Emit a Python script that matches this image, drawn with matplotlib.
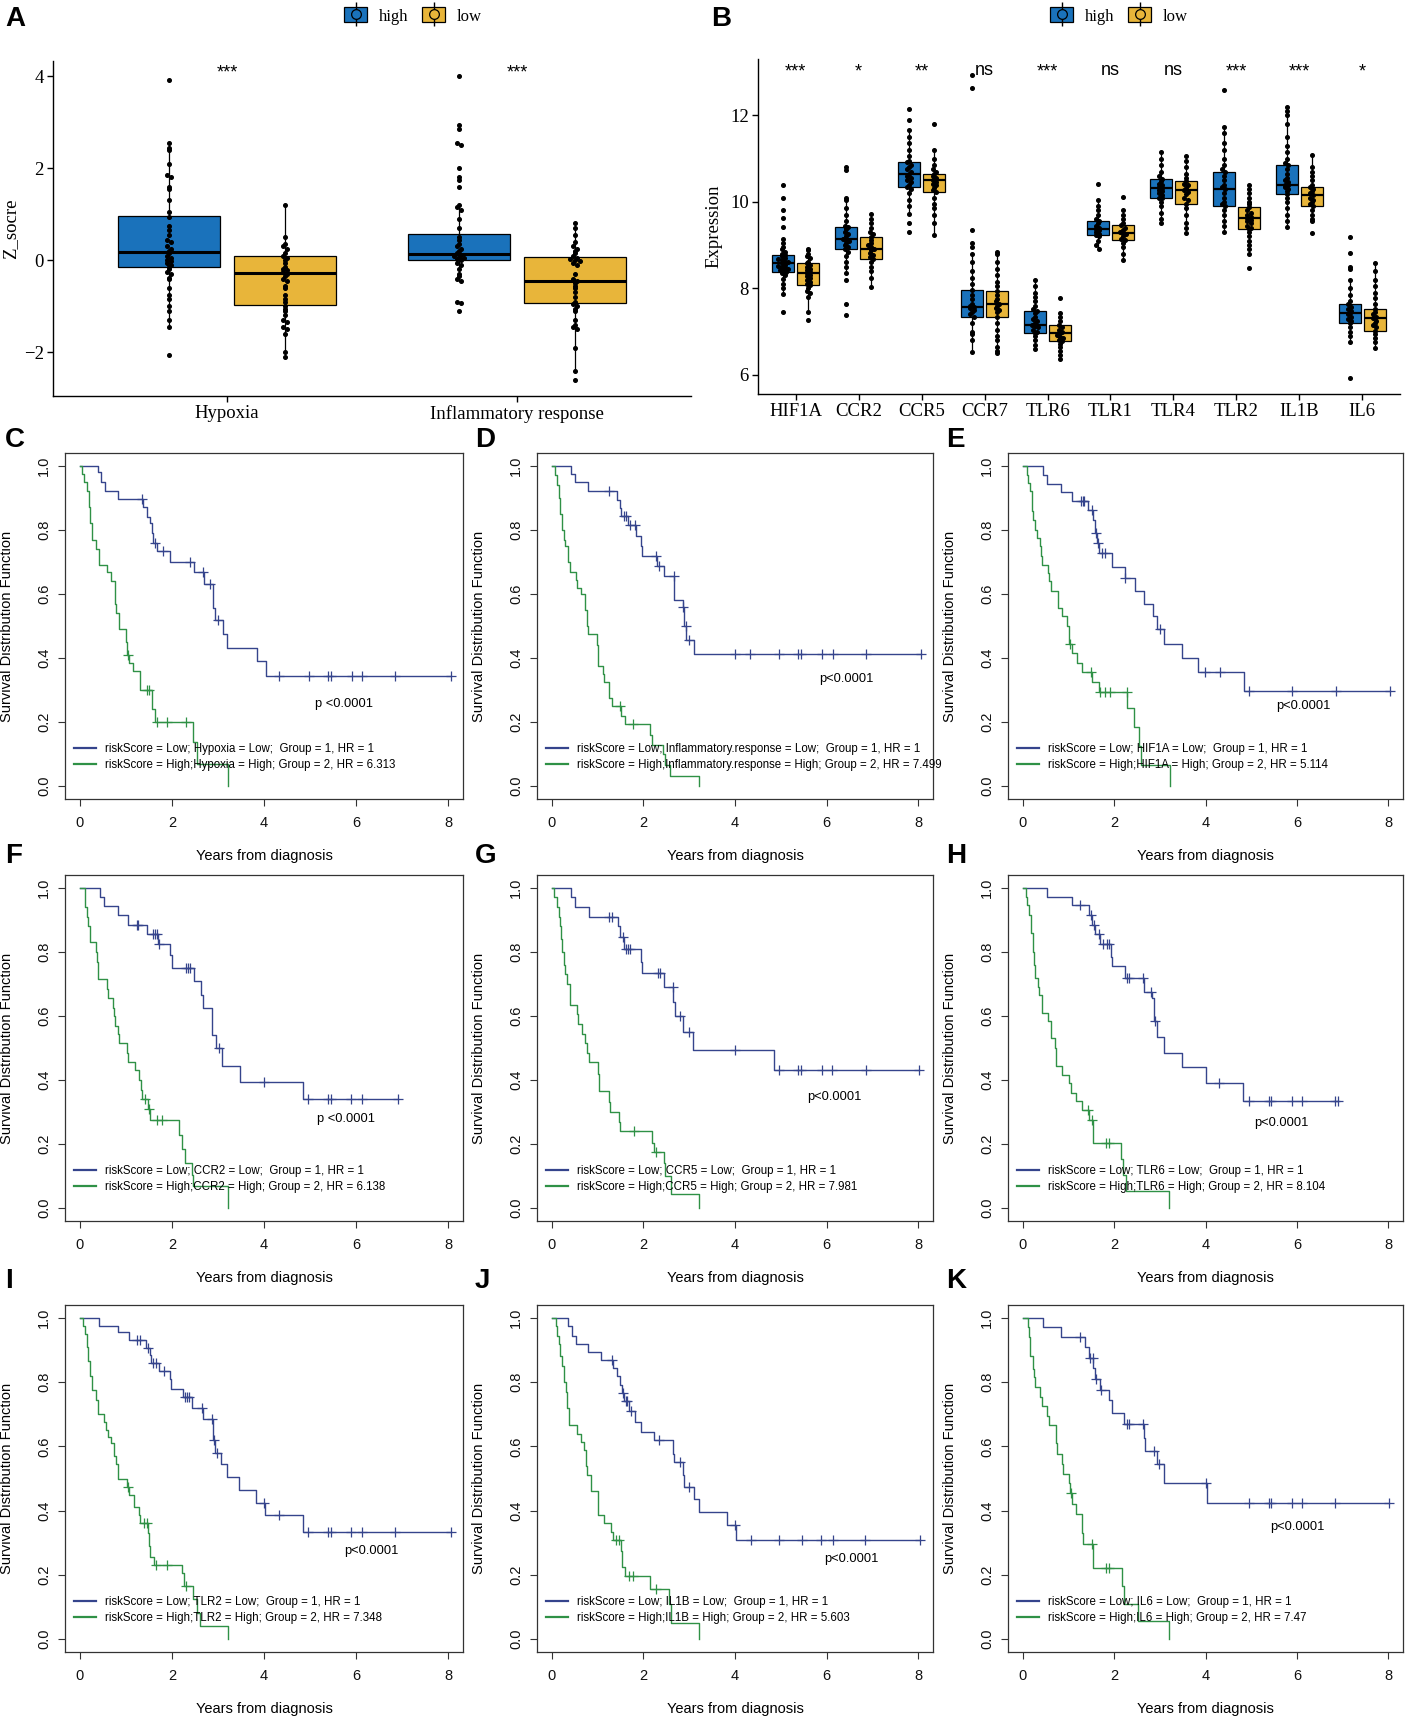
import numpy as np
import matplotlib
matplotlib.use('Agg')
import matplotlib.pyplot as plt
from matplotlib.patches import Patch
from matplotlib.lines import Line2D
from matplotlib.legend_handler import HandlerTuple

W, H = 1406, 1719
SERIF = 'Liberation Serif'
SANS = 'Liberation Sans'
BLUE_BOX = '#1a72bb'
GOLD_BOX = '#e8b53a'
KM_LOW = '#35448c'
KM_HIGH = '#2f9146'

plt.rcParams['font.family'] = [SANS, 'DejaVu Sans']

# ── Panel A: hallmark z-scores ────────────────────────────────────────────────
hallmarks = ['Hypoxia', 'Inflammatory response']
# (whisker low, q1, median, q3, whisker high)
hallmark_high_box = [(-1.45, -0.15, 0.17, 0.97, 2.55), (-0.45, 0.0, 0.14, 0.58, 1.2)]
hallmark_low_box = [(-2.1, -0.97, -0.28, 0.10, 1.2), (-2.4, -0.92, -0.45, 0.07, 0.8)]
hypoxia_high_pts = [3.92, 2.55, 2.45, 2.40, 2.1, 1.85, 1.8, 1.6, 1.55, 1.3, 1.05, 0.95, 0.75, 0.65,
                    0.55, 0.45, 0.4, 0.3, 0.25, 0.2, 0.15, 0.1, 0.05, 0.0, -0.02, -0.05, -0.1, -0.15,
                    -0.2, -0.25, -0.3, -0.38, -0.4, -0.6, -0.75, -0.85, -1.0, -1.1, -1.3, -1.45, -2.05]
hypoxia_low_pts = [1.2, 0.5, 0.35, 0.3, 0.25, 0.15, 0.1, 0.05, 0.0, -0.05, -0.15, -0.2, -0.22, -0.25,
                   -0.3, -0.35, -0.4, -0.45, -0.55, -0.6, -0.75, -0.85, -0.9, -1.0, -1.05, -1.1, -1.2,
                   -1.3, -1.35, -1.45, -1.5, -1.6, -2.0, -2.1]
inflam_high_pts = [4.0, 2.95, 2.85, 2.55, 2.5, 2.0, 1.8, 1.75, 1.6, 1.2, 1.15, 1.1, 0.9, 0.7, 0.5, 0.45,
                   0.35, 0.3, 0.25, 0.2, 0.15, 0.12, 0.1, 0.08, 0.05, 0.02, 0.0, -0.05, -0.1, -0.2, -0.3,
                   -0.35, -0.4, -0.45, -0.9, -0.92, -1.1]
inflam_low_pts = [0.8, 0.7, 0.55, 0.4, 0.3, 0.25, 0.2, 0.15, 0.1, 0.05, 0.02, 0.0, -0.02, -0.05, -0.1,
                  -0.3, -0.4, -0.45, -0.5, -0.55, -0.6, -0.7, -0.8, -0.9, -0.95, -1.0, -1.05, -1.1, -1.3,
                  -1.4, -1.45, -1.5, -1.9, -2.4, -2.6]
hallmark_sig = ['***', '***']

# ── Panel B: gene expression ──────────────────────────────────────────────────
genes = ['HIF1A', 'CCR2', 'CCR5', 'CCR7', 'TLR6', 'TLR1', 'TLR4', 'TLR2', 'IL1B', 'IL6']
gene_sig = ['***', '*', '**', 'ns', '***', 'ns', 'ns', '***', '***', '*']
gene_high_box = [(7.88, 8.38, 8.58, 8.77, 9.15), (8.35, 8.91, 9.15, 9.42, 10.04),
                 (9.73, 10.35, 10.65, 10.91, 11.65), (6.54, 7.35, 7.56, 7.96, 8.8),
                 (6.59, 6.98, 7.15, 7.48, 8.19), (8.92, 9.23, 9.38, 9.56, 10.04),
                 (9.5, 10.08, 10.31, 10.52, 11.15), (9.31, 9.9, 10.29, 10.69, 11.73),
                 (9.42, 10.19, 10.38, 10.85, 12.19), (6.77, 7.21, 7.44, 7.63, 8.19)]
gene_low_box = [(7.46, 8.08, 8.35, 8.59, 8.92), (8.04, 8.69, 8.92, 9.19, 9.73),
                (9.23, 10.22, 10.5, 10.64, 11.19), (6.5, 7.35, 7.65, 7.95, 8.85),
                (6.36, 6.79, 6.96, 7.15, 7.42), (8.65, 9.12, 9.29, 9.46, 9.81),
                (9.27, 9.96, 10.27, 10.48, 11.06), (8.8, 9.37, 9.62, 9.87, 10.38),
                (9.55, 9.9, 10.15, 10.35, 11.08), (6.62, 7.02, 7.31, 7.52, 8.58)]
gene_high_pts = [
    [10.38, 10.08, 9.8, 9.62, 9.42, 9.15, 9.05, 8.95, 8.9, 8.85, 8.8, 8.77, 8.75, 8.7, 8.68, 8.65, 8.62,
     8.6, 8.58, 8.55, 8.52, 8.5, 8.48, 8.45, 8.42, 8.4, 8.38, 8.35, 8.3, 8.22, 8.1, 8.0, 7.88, 7.46],
    [10.8, 10.73, 10.1, 10.04, 9.85, 9.7, 9.55, 9.45, 9.42, 9.38, 9.3, 9.25, 9.2, 9.15, 9.12, 9.1, 9.05,
     9.0, 8.95, 8.91, 8.85, 8.75, 8.6, 8.5, 8.35, 8.19, 7.65, 7.38],
    [12.15, 11.88, 11.65, 11.5, 11.35, 11.2, 11.05, 10.95, 10.91, 10.85, 10.8, 10.75, 10.7, 10.65, 10.6,
     10.55, 10.5, 10.45, 10.4, 10.35, 10.3, 10.2, 10.05, 9.9, 9.73, 9.5, 9.3],
    [12.92, 12.63, 9.36, 9.05, 8.95, 8.8, 8.6, 8.4, 8.25, 8.1, 7.96, 7.85, 7.75, 7.65, 7.6, 7.58, 7.55,
     7.5, 7.45, 7.4, 7.35, 7.2, 7.0, 6.95, 6.8, 6.54],
    [8.19, 8.05, 7.9, 7.8, 7.7, 7.6, 7.52, 7.48, 7.42, 7.35, 7.3, 7.25, 7.2, 7.15, 7.12, 7.1, 7.05, 7.0,
     6.98, 6.9, 6.8, 6.7, 6.59],
    [10.41, 10.04, 9.9, 9.8, 9.7, 9.6, 9.56, 9.5, 9.45, 9.4, 9.38, 9.35, 9.3, 9.26, 9.23, 9.2, 9.1, 9.0,
     8.92],
    [11.15, 11.0, 10.85, 10.7, 10.6, 10.52, 10.48, 10.42, 10.38, 10.34, 10.31, 10.28, 10.25, 10.2, 10.15,
     10.1, 10.08, 10.0, 9.9, 9.75, 9.6, 9.5],
    [12.59, 11.73, 11.6, 11.35, 11.2, 11.0, 10.85, 10.75, 10.69, 10.6, 10.5, 10.4, 10.35, 10.29, 10.2,
     10.1, 10.0, 9.95, 9.9, 9.8, 9.7, 9.55, 9.45, 9.31],
    [12.19, 12.1, 12.0, 11.8, 11.5, 11.3, 11.15, 11.0, 10.9, 10.85, 10.75, 10.65, 10.55, 10.5, 10.45,
     10.4, 10.38, 10.35, 10.3, 10.25, 10.19, 10.1, 10.0, 9.85, 9.7, 9.55, 9.42],
    [9.19, 8.81, 8.5, 8.44, 8.19, 8.0, 7.85, 7.7, 7.63, 7.58, 7.52, 7.48, 7.44, 7.4, 7.35, 7.3, 7.25,
     7.21, 7.1, 7.0, 6.9, 6.77, 5.92],
]
gene_low_pts = [
    [8.92, 8.88, 8.8, 8.75, 8.7, 8.62, 8.59, 8.55, 8.5, 8.45, 8.42, 8.38, 8.35, 8.32, 8.28, 8.25, 8.2,
     8.15, 8.1, 8.08, 8.0, 7.95, 7.9, 7.8, 7.46, 7.27],
    [9.73, 9.6, 9.5, 9.4, 9.3, 9.25, 9.19, 9.12, 9.05, 9.0, 8.95, 8.92, 8.88, 8.82, 8.78, 8.72, 8.69,
     8.6, 8.5, 8.4, 8.25, 8.04],
    [11.79, 11.19, 11.0, 10.85, 10.75, 10.68, 10.64, 10.6, 10.55, 10.5, 10.45, 10.42, 10.38, 10.32,
     10.28, 10.22, 10.1, 9.95, 9.85, 9.7, 9.5, 9.23],
    [8.85, 8.8, 8.6, 8.45, 8.3, 8.15, 8.05, 7.95, 7.85, 7.75, 7.7, 7.65, 7.6, 7.55, 7.5, 7.45, 7.35,
     7.2, 7.05, 6.9, 6.8, 6.65, 6.55, 6.5],
    [7.77, 7.42, 7.35, 7.25, 7.15, 7.1, 7.05, 7.0, 6.96, 6.92, 6.88, 6.85, 6.8, 6.79, 6.72, 6.65, 6.55,
     6.45, 6.36],
    [10.12, 9.81, 9.7, 9.6, 9.5, 9.46, 9.4, 9.35, 9.3, 9.29, 9.25, 9.2, 9.15, 9.12, 9.05, 8.95, 8.8, 8.65],
    [11.06, 10.95, 10.8, 10.65, 10.55, 10.48, 10.42, 10.38, 10.32, 10.27, 10.22, 10.18, 10.1, 10.05,
     9.96, 9.85, 9.7, 9.5, 9.4, 9.27],
    [10.38, 10.3, 10.2, 10.1, 10.0, 9.95, 9.87, 9.8, 9.75, 9.7, 9.66, 9.62, 9.58, 9.55, 9.5, 9.45, 9.4,
     9.37, 9.3, 9.2, 9.1, 9.0, 8.9, 8.8, 8.46],
    [11.08, 10.8, 10.7, 10.6, 10.5, 10.4, 10.35, 10.3, 10.25, 10.2, 10.15, 10.1, 10.05, 10.0, 9.95, 9.9,
     9.8, 9.7, 9.6, 9.55, 9.27],
    [8.58, 8.4, 8.2, 8.05, 7.9, 7.78, 7.65, 7.52, 7.45, 7.4, 7.35, 7.31, 7.25, 7.2, 7.15, 7.1, 7.02,
     6.95, 6.85, 6.75, 6.62],
]

# ── Panels C-K: Kaplan-Meier curves (event times, survival after event, censor times) ──
C_low_t = [0.39, 0.47, 0.54, 0.83, 1.38, 1.45, 1.52, 1.56, 1.60, 1.67, 1.96, 2.47, 2.69, 2.89, 2.94, 3.12, 3.20, 3.85, 4.05]
C_low_s = [0.98, 0.95, 0.92, 0.896, 0.87, 0.84, 0.82, 0.79, 0.76, 0.735, 0.70, 0.67, 0.63, 0.557, 0.52, 0.476, 0.43, 0.39, 0.344]
C_low_c = [1.36, 1.63, 1.81, 2.39, 2.67, 2.82, 3.01, 4.32, 4.97, 5.40, 5.46, 5.90, 6.12, 6.84, 8.06]
C_high_t = [0.05, 0.10, 0.16, 0.20, 0.23, 0.27, 0.36, 0.41, 0.59, 0.67, 0.76, 0.79, 0.85, 1.01, 1.03, 1.07, 1.16, 1.30, 1.56, 1.63, 2.45, 2.54, 3.22]
C_high_s = [0.975, 0.95, 0.92, 0.87, 0.82, 0.77, 0.74, 0.69, 0.67, 0.64, 0.57, 0.54, 0.49, 0.45, 0.41, 0.385, 0.36, 0.30, 0.24, 0.20, 0.138, 0.07, 0.0]
C_high_c = [1.04, 1.45, 1.51, 1.68, 1.90, 2.30]

D_low_t = [0.42, 0.51, 0.80, 1.43, 1.48, 1.52, 1.66, 1.85, 1.95, 1.98, 2.30, 2.44, 2.67, 2.86, 2.88, 2.94, 3.10]
D_low_s = [0.974, 0.948, 0.922, 0.894, 0.868, 0.844, 0.815, 0.78, 0.75, 0.717, 0.688, 0.655, 0.58, 0.56, 0.50, 0.457, 0.414]
D_low_c = [1.25, 1.57, 1.63, 1.70, 1.82, 2.28, 2.35, 2.66, 2.87, 2.92, 3.00, 3.99, 4.32, 4.96, 5.38, 5.44, 5.90, 6.14, 6.85, 8.05]
D_high_t = [0.07, 0.12, 0.15, 0.18, 0.22, 0.26, 0.29, 0.36, 0.39, 0.53, 0.56, 0.64, 0.73, 0.76, 0.80, 0.99, 1.02, 1.12, 1.15, 1.26, 1.31, 1.52, 1.61, 2.15, 2.19, 2.43, 2.48, 2.59, 3.21]
D_high_s = [0.97, 0.94, 0.90, 0.85, 0.80, 0.77, 0.75, 0.70, 0.67, 0.645, 0.62, 0.60, 0.55, 0.50, 0.475, 0.44, 0.375, 0.35, 0.325, 0.275, 0.25, 0.22, 0.195, 0.16, 0.13, 0.10, 0.065, 0.032, 0.0]
D_high_c = [1.50, 1.78]

E_low_t = [0.45, 0.54, 0.83, 1.09, 1.44, 1.53, 1.58, 1.63, 1.67, 1.95, 2.24, 2.46, 2.66, 2.86, 2.93, 3.10, 3.48, 3.84, 4.85]
E_low_s = [0.97, 0.943, 0.917, 0.89, 0.862, 0.83, 0.79, 0.76, 0.727, 0.685, 0.65, 0.61, 0.57, 0.53, 0.49, 0.445, 0.40, 0.355, 0.298]
E_low_c = [1.28, 1.31, 1.35, 1.51, 1.60, 1.64, 1.73, 1.80, 2.25, 3.00, 3.99, 4.32, 4.96, 5.90, 6.85, 8.03]
E_high_t = [0.09, 0.12, 0.16, 0.20, 0.21, 0.23, 0.27, 0.31, 0.38, 0.40, 0.42, 0.55, 0.58, 0.63, 0.77, 0.87, 0.98, 1.02, 1.07, 1.20, 1.29, 1.51, 1.66, 2.29, 2.44, 2.55, 2.60, 3.22]
E_high_s = [0.97, 0.945, 0.92, 0.89, 0.86, 0.83, 0.80, 0.775, 0.75, 0.72, 0.69, 0.665, 0.64, 0.61, 0.555, 0.53, 0.50, 0.445, 0.415, 0.385, 0.355, 0.325, 0.295, 0.245, 0.185, 0.125, 0.065, 0.0]
E_high_c = [1.04, 1.49, 1.69, 1.80, 1.91, 2.28]

F_low_t = [0.45, 0.53, 0.84, 1.05, 1.45, 1.69, 1.96, 2.00, 2.47, 2.64, 2.67, 2.87, 2.95, 3.09, 3.48, 4.84]
F_low_s = [0.97, 0.943, 0.915, 0.885, 0.856, 0.825, 0.79, 0.75, 0.71, 0.665, 0.625, 0.54, 0.50, 0.445, 0.395, 0.34]
F_low_c = [1.24, 1.27, 1.60, 1.64, 1.67, 1.73, 2.30, 2.35, 2.40, 3.02, 4.00, 4.96, 5.40, 5.45, 5.89, 6.12, 6.90]
F_high_t = [0.11, 0.15, 0.19, 0.22, 0.36, 0.38, 0.40, 0.60, 0.62, 0.73, 0.75, 0.76, 0.84, 0.86, 1.02, 1.05, 1.20, 1.29, 1.32, 1.35, 1.48, 1.53, 2.15, 2.22, 2.29, 2.44, 2.46, 3.22]
F_high_s = [0.94, 0.91, 0.88, 0.83, 0.80, 0.77, 0.715, 0.685, 0.655, 0.625, 0.60, 0.57, 0.545, 0.515, 0.485, 0.455, 0.43, 0.40, 0.37, 0.34, 0.31, 0.275, 0.23, 0.185, 0.14, 0.105, 0.07, 0.0]
F_high_c = [1.42, 1.50, 1.67, 1.78]

G_low_t = [0.42, 0.51, 0.82, 1.44, 1.48, 1.57, 1.95, 1.98, 2.44, 2.65, 2.68, 2.86, 3.08, 4.85]
G_low_s = [0.97, 0.94, 0.91, 0.88, 0.845, 0.81, 0.77, 0.733, 0.69, 0.645, 0.60, 0.55, 0.495, 0.432]
G_low_c = [1.25, 1.31, 1.55, 1.62, 1.66, 1.71, 2.33, 2.37, 2.64, 2.80, 2.99, 3.99, 4.96, 5.38, 5.44, 5.89, 6.12, 6.85, 8.02]
G_high_t = [0.04, 0.11, 0.15, 0.18, 0.20, 0.23, 0.26, 0.29, 0.33, 0.39, 0.40, 0.55, 0.58, 0.66, 0.73, 0.76, 0.82, 1.00, 1.04, 1.25, 1.28, 1.46, 1.48, 2.19, 2.24, 2.44, 2.47, 2.61, 3.22]
G_high_s = [0.97, 0.94, 0.91, 0.88, 0.84, 0.80, 0.76, 0.73, 0.70, 0.67, 0.635, 0.605, 0.575, 0.545, 0.515, 0.485, 0.455, 0.42, 0.365, 0.33, 0.30, 0.27, 0.24, 0.205, 0.175, 0.14, 0.10, 0.043, 0.0]
G_high_c = [1.79, 2.28]

H_low_t = [0.53, 1.09, 1.46, 1.51, 1.58, 1.69, 1.93, 1.96, 2.24, 2.66, 2.82, 2.88, 2.93, 3.10, 3.48, 4.00, 4.83]
H_low_s = [0.97, 0.945, 0.915, 0.885, 0.855, 0.825, 0.785, 0.755, 0.72, 0.675, 0.655, 0.585, 0.535, 0.485, 0.44, 0.39, 0.335]
H_low_c = [1.26, 1.50, 1.57, 1.68, 1.75, 1.84, 1.88, 2.28, 2.32, 2.63, 2.80, 2.90, 4.30, 4.96, 5.38, 5.43, 5.89, 6.11, 6.84, 6.90]
H_high_t = [0.07, 0.095, 0.13, 0.18, 0.22, 0.24, 0.27, 0.33, 0.36, 0.42, 0.55, 0.62, 0.71, 0.74, 0.86, 1.02, 1.06, 1.17, 1.30, 1.46, 1.53, 2.15, 2.19, 2.26, 3.21]
H_high_s = [0.97, 0.945, 0.915, 0.86, 0.80, 0.76, 0.72, 0.69, 0.665, 0.61, 0.585, 0.53, 0.50, 0.445, 0.415, 0.39, 0.36, 0.335, 0.305, 0.275, 0.205, 0.155, 0.105, 0.055, 0.0]
H_high_c = [1.42, 1.52, 1.82, 1.90]

I_low_t = [0.42, 0.82, 1.06, 1.44, 1.52, 1.55, 1.71, 1.95, 1.98, 2.24, 2.43, 2.68, 2.89, 2.93, 3.06, 3.19, 3.46, 3.83, 4.03, 4.85]
I_low_s = [0.975, 0.955, 0.93, 0.905, 0.885, 0.86, 0.835, 0.81, 0.78, 0.755, 0.72, 0.685, 0.62, 0.58, 0.545, 0.505, 0.465, 0.425, 0.385, 0.335]
I_low_c = [1.25, 1.31, 1.49, 1.60, 1.66, 1.82, 2.28, 2.33, 2.37, 2.66, 2.88, 2.91, 2.99, 4.01, 4.32, 4.96, 5.39, 5.45, 5.89, 6.12, 6.85, 8.05]
I_high_t = [0.07, 0.11, 0.15, 0.18, 0.22, 0.26, 0.36, 0.39, 0.53, 0.57, 0.62, 0.67, 0.75, 0.79, 0.82, 1.02, 1.06, 1.17, 1.28, 1.31, 1.48, 1.50, 1.53, 1.62, 2.22, 2.26, 2.46, 2.55, 2.60, 3.22]
I_high_s = [0.975, 0.95, 0.91, 0.865, 0.82, 0.775, 0.745, 0.70, 0.675, 0.65, 0.63, 0.61, 0.57, 0.545, 0.50, 0.475, 0.45, 0.41, 0.385, 0.36, 0.33, 0.29, 0.255, 0.23, 0.205, 0.165, 0.125, 0.08, 0.04, 0.0]
I_high_c = [1.04, 1.40, 1.46, 1.66, 1.89, 2.30]

J_low_t = [0.36, 0.45, 0.52, 0.80, 1.07, 1.33, 1.42, 1.49, 1.53, 1.58, 1.68, 1.81, 1.95, 2.24, 2.65, 2.67, 2.86, 2.89, 3.11, 3.21, 3.83, 4.02]
J_low_s = [0.975, 0.945, 0.92, 0.895, 0.87, 0.845, 0.82, 0.79, 0.765, 0.74, 0.71, 0.675, 0.645, 0.62, 0.575, 0.55, 0.51, 0.475, 0.435, 0.395, 0.355, 0.31]
J_low_c = [1.31, 1.56, 1.62, 1.65, 1.73, 2.35, 2.80, 3.00, 3.99, 4.34, 4.97, 5.46, 5.88, 6.13, 6.84, 8.03]
J_high_t = [0.09, 0.12, 0.16, 0.19, 0.22, 0.26, 0.31, 0.34, 0.38, 0.56, 0.63, 0.71, 0.74, 0.78, 0.85, 1.00, 1.02, 1.14, 1.29, 1.33, 1.51, 1.53, 1.60, 2.14, 2.55, 2.60, 3.21]
J_high_s = [0.975, 0.945, 0.92, 0.88, 0.85, 0.80, 0.77, 0.72, 0.665, 0.64, 0.615, 0.59, 0.54, 0.51, 0.46, 0.41, 0.385, 0.36, 0.335, 0.31, 0.275, 0.225, 0.195, 0.155, 0.11, 0.05, 0.0]
J_high_c = [1.40, 1.46, 1.68, 1.78, 2.27]

K_low_t = [0.45, 0.85, 1.36, 1.46, 1.55, 1.58, 1.69, 1.88, 1.95, 2.22, 2.66, 2.68, 2.93, 3.10, 4.03]
K_low_s = [0.97, 0.94, 0.91, 0.875, 0.845, 0.81, 0.775, 0.745, 0.705, 0.67, 0.625, 0.585, 0.545, 0.485, 0.425]
K_low_c = [1.26, 1.47, 1.53, 1.60, 1.71, 2.28, 2.33, 2.64, 2.88, 2.98, 4.01, 4.96, 5.38, 5.43, 5.89, 6.11, 6.84, 8.02]
K_high_t = [0.11, 0.14, 0.17, 0.22, 0.24, 0.27, 0.39, 0.42, 0.53, 0.57, 0.74, 0.76, 0.86, 0.88, 1.02, 1.04, 1.09, 1.17, 1.30, 1.33, 1.53, 2.17, 2.22, 2.52, 3.21]
K_high_s = [0.97, 0.94, 0.88, 0.84, 0.815, 0.785, 0.755, 0.725, 0.695, 0.665, 0.61, 0.575, 0.545, 0.515, 0.485, 0.455, 0.42, 0.39, 0.33, 0.295, 0.22, 0.165, 0.11, 0.055, 0.0]
K_high_c = [1.06, 1.52, 1.82, 1.90]

km_letters = ['C', 'D', 'E', 'F', 'G', 'H', 'I', 'J', 'K']
km_vars = ['Hypoxia', 'Inflammatory.response', 'HIF1A', 'CCR2', 'CCR5', 'TLR6', 'TLR2', 'IL1B', 'IL6']
km_hr = ['6.313', '7.499', '5.114', '6.138', '7.981', '8.104', '7.348', '5.603', '7.47']
km_ptext = ['p <0.0001', 'p<0.0001', 'p<0.0001', 'p <0.0001', 'p<0.0001', 'p<0.0001',
            'p<0.0001', 'p<0.0001', 'p<0.0001']
km_ppos = [(5.73, 0.256), (6.42, 0.335), (6.14, 0.25), (5.77, 0.277), (6.17, 0.347),
           (5.65, 0.267), (6.34, 0.275), (6.54, 0.25), (6.0, 0.349)]

km_low = [(C_low_t, C_low_s, C_low_c), (D_low_t, D_low_s, D_low_c), (E_low_t, E_low_s, E_low_c),
          (F_low_t, F_low_s, F_low_c), (G_low_t, G_low_s, G_low_c), (H_low_t, H_low_s, H_low_c),
          (I_low_t, I_low_s, I_low_c), (J_low_t, J_low_s, J_low_c), (K_low_t, K_low_s, K_low_c)]
km_high = [(C_high_t, C_high_s, C_high_c), (D_high_t, D_high_s, D_high_c), (E_high_t, E_high_s, E_high_c),
           (F_high_t, F_high_s, F_high_c), (G_high_t, G_high_s, G_high_c), (H_high_t, H_high_s, H_high_c),
           (I_high_t, I_high_s, I_high_c), (J_high_t, J_high_s, J_high_c), (K_high_t, K_high_s, K_high_c)]


fig = plt.figure(figsize=(W / 100, H / 100), dpi=100, facecolor='white')


def px_axes(left, top, right, bottom):
    return fig.add_axes([left / W, 1 - bottom / H, (right - left) / W, (bottom - top) / H])


def stack_offsets(vals, bw, dx):
    vals = np.asarray(vals, dtype=float)
    bins = np.round(vals / bw).astype(int)
    off = np.zeros(len(vals))
    for b in np.unique(bins):
        idx = np.where(bins == b)[0]
        off[idx] = (np.arange(len(idx)) - (len(idx) - 1) / 2) * dx
    return off


def draw_group(ax, positions, boxes, pts, color, bw, dx, mlw):
    stats = [dict(whislo=b[0], q1=b[1], med=b[2], q3=b[3], whishi=b[4], fliers=[]) for b in boxes]
    ax.bxp(stats, positions=positions, widths=0.35, patch_artist=True, showcaps=False,
           showfliers=False, manage_ticks=False,
           boxprops=dict(facecolor=color, edgecolor='black', linewidth=0.9),
           medianprops=dict(color='black', linewidth=mlw),
           whiskerprops=dict(color='black', linewidth=0.9))
    for p, v in zip(positions, pts):
        ax.plot(p + stack_offsets(v, bw, dx), v, 'o', ms=2.6, color='black', ls='none', zorder=4)


def style_gg(ax):
    for s in ('top', 'right'):
        ax.spines[s].set_visible(False)
    for s in ('left', 'bottom'):
        ax.spines[s].set_linewidth(1.0)
    ax.tick_params(direction='out', length=4, width=1.0, pad=2.5, labelsize=13.5,
                   labelfontfamily=SERIF, colors='black')


def gg_legend(cx):
    handles = []
    for c in (BLUE_BOX, GOLD_BOX):
        handles.append((Patch(facecolor=c, edgecolor='black', linewidth=0.9),
                        Line2D([], [], marker='|', ms=17, mew=1.0, color='black', ls='none'),
                        Line2D([], [], marker='o', ms=7, mfc=c, mec='black', mew=0.9, ls='none')))
    fig.legend(handles, ['high', 'low'], loc='center', bbox_to_anchor=(cx / W, 1 - 16 / H),
               ncol=2, frameon=False, prop={'family': SERIF, 'size': 12},
               handler_map={tuple: HandlerTuple(ndivide=1)}, handlelength=1.4,
               handleheight=1.0, handletextpad=0.7, columnspacing=0.8)


# ── Panel A ────────────────────────────────────────────────────────────────────
axA = px_axes(53, 61, 691, 396)
posA = np.arange(1, len(hallmarks) + 1)
draw_group(axA, posA - 0.2, hallmark_high_box, [hypoxia_high_pts, inflam_high_pts], BLUE_BOX, 0.07, 0.016, 2.2)
draw_group(axA, posA + 0.2, hallmark_low_box, [hypoxia_low_pts, inflam_low_pts], GOLD_BOX, 0.07, 0.016, 2.2)
axA.set_xlim(0.4, 2.6)
axA.set_ylim(-2.95, 4.33)
axA.set_yticks([-2, 0, 2, 4])
axA.set_yticklabels(['\u22122', '0', '2', '4'])
axA.set_xticks(posA)
axA.set_xticklabels(hallmarks)
style_gg(axA)
axA.set_ylabel('Z_socre', fontfamily=SERIF, fontsize=13.5, va='center')
axA.yaxis.set_label_coords(-0.066, 0.5)
for p, s in zip(posA, hallmark_sig):
    axA.text(p, 3.97, s, ha='center', va='baseline', fontsize=13, fontfamily=SANS)
gg_legend(413)

# ── Panel B ────────────────────────────────────────────────────────────────────
axB = px_axes(758, 59, 1400, 394)
posB = np.arange(1, len(genes) + 1)
draw_group(axB, posB - 0.2, gene_high_box, gene_high_pts, BLUE_BOX, 0.08, 0.05, 1.6)
draw_group(axB, posB + 0.2, gene_low_box, gene_low_pts, GOLD_BOX, 0.08, 0.05, 1.6)
axB.set_xlim(0.4, len(genes) + 0.6)
axB.set_ylim(5.56, 13.3)
axB.set_yticks([6, 8, 10, 12])
axB.set_xticks(posB)
axB.set_xticklabels(genes)
style_gg(axB)
axB.set_ylabel('Expression', fontfamily=SERIF, fontsize=13.5, va='center')
axB.yaxis.set_label_coords(-0.0685, 0.5)
for p, s in zip(posB, gene_sig):
    axB.text(p, 12.93 if s == 'ns' else 12.89, s, ha='center', va='baseline', fontsize=13,
             fontfamily=SANS)
gg_legend(1119)

# ── Panels C-K ─────────────────────────────────────────────────────────────────
col_left = [65, 537, 1008]
col_right = [463, 933, 1403]
row_top = [453, 875, 1305]
row_bottom = [799, 1221, 1652]


def km_curve(ax, t, s, c, color):
    t = np.asarray(t)
    s = np.asarray(s)
    c = np.asarray(c)
    end = max(t[-1], c.max())
    ax.step(np.r_[0.0, t, end], np.r_[1.0, s, s[-1]], where='post', color=color, lw=1.0)
    yc = np.r_[1.0, s][np.searchsorted(t, c, side='right')]
    ax.plot(c, yc, '+', color=color, ms=7, mew=0.9, ls='none')


for i, letter in enumerate(km_letters):
    r, c = divmod(i, 3)
    ax = px_axes(col_left[c], row_top[r], col_right[c], row_bottom[r])
    km_curve(ax, *km_low[i], KM_LOW)
    km_curve(ax, *km_high[i], KM_HIGH)
    ax.set_xlim(-0.32, 8.32)
    ax.set_ylim(-0.04, 1.04)
    ax.set_xticks([0, 2, 4, 6, 8])
    ax.set_yticks([0, 0.2, 0.4, 0.6, 0.8, 1.0])
    ax.set_yticklabels(['0.0', '0.2', '0.4', '0.6', '0.8', '1.0'], rotation=90, va='center')
    for sp in ax.spines.values():
        sp.set_color('#333333')
        sp.set_linewidth(0.9)
    ax.tick_params(axis='both', direction='out', length=5, width=0.8, color='#333333',
                   labelsize=10.5, labelcolor='#111111')
    ax.tick_params(axis='x', pad=7)
    ax.tick_params(axis='y', pad=5)
    ax.set_xlabel('Years from diagnosis', fontsize=10.5)
    ax.xaxis.set_label_coords(0.5, -0.165)
    ax.xaxis.label.set_va('center')
    ax.set_ylabel('Survival Distribution Function', fontsize=10.5)
    ax.yaxis.set_label_coords(-0.146, 0.5)
    ax.yaxis.label.set_va('center')
    g = km_vars[i]
    handles = [Line2D([], [], color=KM_LOW, lw=1.6), Line2D([], [], color=KM_HIGH, lw=1.6)]
    labels = [f'riskScore = Low; {g} = Low;  Group = 1, HR = 1',
              f'riskScore = High;{g} = High; Group = 2, HR = {km_hr[i]}']
    ax.legend(handles, labels, loc='lower left', bbox_to_anchor=(0.023, 0.08), frameon=False,
              fontsize=8.3, handlelength=1.9, handletextpad=0.8, labelspacing=0.4,
              borderpad=0, borderaxespad=0)
    px, py = km_ppos[i]
    ax.text(px, py, km_ptext[i], ha='center', va='center', fontsize=9.3)

# ── Panel letters ─────────────────────────────────────────────────────────────
letter_pos = {'A': (5, 6), 'B': (711, 6), 'C': (5, 427), 'D': (475, 427), 'E': (946, 427),
              'F': (5, 843), 'G': (475, 843), 'H': (946, 843), 'I': (5, 1268), 'J': (475, 1268),
              'K': (946, 1268)}
for k, (lx, ly) in letter_pos.items():
    fig.text(lx / W, 1 - ly / H, k, ha='left', va='top', fontsize=20, fontweight='bold',
             fontfamily=SANS)

fig.savefig('out.png', dpi=100, facecolor='white')
